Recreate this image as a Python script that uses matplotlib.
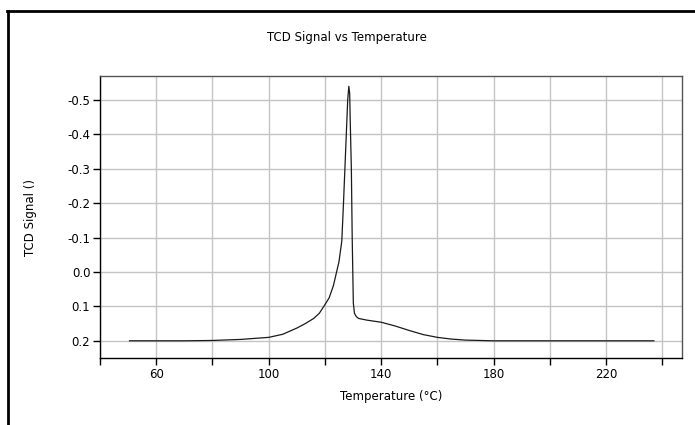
import matplotlib.pyplot as plt
from matplotlib.lines import Line2D

plt.rcParams['font.family'] = ['DejaVu Sans']

# TCD signal
temperature = [50.5, 60, 70, 80, 90, 100, 105, 110, 113, 116, 118, 120, 121.5,
               123, 124, 125, 126, 126.6, 127.1, 127.6, 128.1, 128.5, 128.8,
               129.0, 129.4, 129.7, 130.1, 130.5, 131.2, 132, 135, 140, 145,
               150, 155, 160, 165, 170, 180, 190, 200, 210, 220, 230, 237]
signal = [0.2, 0.2, 0.2, 0.199, 0.196, 0.19, 0.181, 0.163, 0.15, 0.135, 0.12,
          0.095, 0.075, 0.04, 0.005, -0.03, -0.09, -0.2, -0.3, -0.4, -0.5,
          -0.54, -0.52, -0.44, -0.3, -0.1, 0.09, 0.12, 0.13, 0.135, 0.14,
          0.146, 0.157, 0.17, 0.182, 0.19, 0.195, 0.198, 0.2, 0.2, 0.2, 0.2,
          0.2, 0.2, 0.2]

x_ticks = [40, 60, 80, 100, 120, 140, 160, 180, 200, 220, 240]
x_labels = ['', '60', '', '100', '', '140', '', '180', '', '220', '']
y_ticks = [-0.5, -0.4, -0.3, -0.2, -0.1, 0.0, 0.1, 0.2]

W, H = 695, 425
fs = 8.5
fig = plt.figure(figsize=(W / 100, H / 100), dpi=100)
ax = fig.add_axes([100 / W, 1 - 358 / H, 582 / W, 282 / H])

ax.plot(temperature, signal, color='#1a1a1a', lw=0.9)

ax.set_xlim(41, 247)
ax.set_ylim(0.25, -0.57)
ax.set_xticks(x_ticks)
ax.set_xticklabels(x_labels)
ax.set_yticks(y_ticks)
ax.set_yticklabels(['%.1f' % v for v in y_ticks])
ax.grid(True, color='#c4c4c4', lw=1)
ax.set_axisbelow(True)
ax.tick_params(direction='out', length=5, width=1, labelsize=fs, pad=2, color='black')

for side in ['left', 'bottom']:
    ax.spines[side].set_color('black')
    ax.spines[side].set_linewidth(1)
for side in ['top', 'right']:
    ax.spines[side].set_color('#555555')
    ax.spines[side].set_linewidth(1)

ax.set_xlabel('Temperature (°C)', fontsize=fs)
ax.set_ylabel('TCD Signal ()', fontsize=fs)
ax.xaxis.set_label_coords(0.5, -0.113)
ax.yaxis.set_label_coords(-0.108, 0.5)
fig.text(347 / W, 1 - 38 / H, 'TCD Signal vs Temperature', fontsize=fs,
         ha='center', va='center')

# outer frame (top and left edges)
fig.add_artist(Line2D([7 / W, 1], [1 - 11 / H, 1 - 11 / H], color='black', lw=2,
                      transform=fig.transFigure))
fig.add_artist(Line2D([8 / W, 8 / W], [0, 1 - 11 / H], color='black', lw=2,
                      transform=fig.transFigure))

fig.savefig('out.png', dpi=100)
